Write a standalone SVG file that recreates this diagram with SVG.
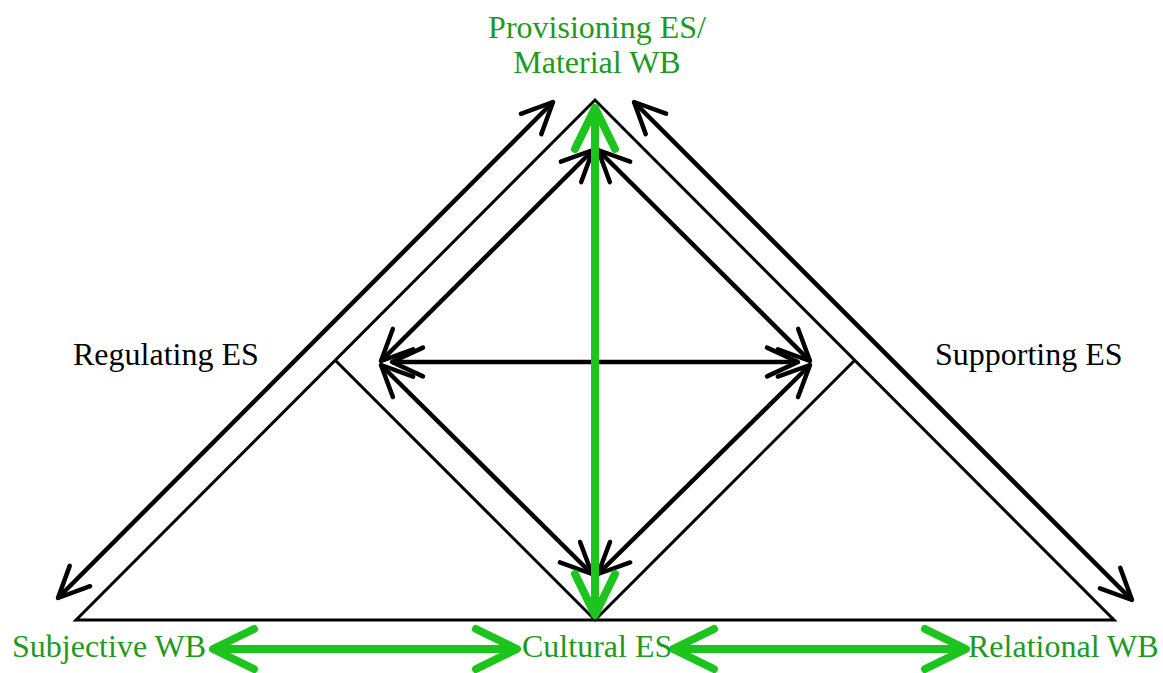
<svg xmlns="http://www.w3.org/2000/svg" width="1163" height="673" viewBox="0 0 1163 673">
  <style>
    .frame { fill: none; stroke: #000; stroke-width: 3; stroke-linejoin: miter; }
    .blk { fill: none; stroke: #000; stroke-width: 4.5; stroke-linecap: butt; }
    .grn { fill: none; stroke: #1ec41e; stroke-width: 8; stroke-linecap: butt; }
    .g { fill: #1e9a1e; }
    .k { fill: #000; }
  </style>
  <defs>
    <marker id="ah" markerUnits="userSpaceOnUse" markerWidth="80" markerHeight="80" viewBox="-40 -40 80 80" refX="0" refY="0" orient="auto-start-reverse" overflow="visible">
      <path d="M -31,-14.4 L 0,0 L -31,14.4" fill="none" stroke="#000" stroke-width="4.5" stroke-linecap="round" stroke-linejoin="round"/>
    </marker>
    <marker id="ahg" markerUnits="userSpaceOnUse" markerWidth="100" markerHeight="100" viewBox="-50 -50 100 100" refX="0" refY="0" orient="auto-start-reverse" overflow="visible">
      <path d="M -41,-20 L 0,0 L -41,20" fill="none" stroke="#1ec41e" stroke-width="8" stroke-linecap="round" stroke-linejoin="round"/>
    </marker>
  </defs>
  <rect width="1163" height="673" fill="#fff"/>

  <g id="frame">
    <polygon class="frame" points="76,620 595,100 1114,620"/>
    <polyline class="frame" points="335,360 595,620 855,360"/>
  </g>

  <g id="connectors">
    <line class="blk" x1="58" y1="598" x2="553" y2="102" marker-start="url(#ah)" marker-end="url(#ah)"/>
    <line class="blk" x1="634" y1="102" x2="1132" y2="600" marker-start="url(#ah)" marker-end="url(#ah)"/>
    <line class="blk" x1="593" y1="150" x2="381" y2="361" marker-start="url(#ah)" marker-end="url(#ah)"/>
    <line class="blk" x1="598" y1="150" x2="810" y2="361" marker-start="url(#ah)" marker-end="url(#ah)"/>
    <line class="blk" x1="381" y1="365" x2="592" y2="574" marker-start="url(#ah)" marker-end="url(#ah)"/>
    <line class="blk" x1="810" y1="365" x2="598" y2="574" marker-start="url(#ah)" marker-end="url(#ah)"/>
    <line class="blk" x1="392" y1="362" x2="798" y2="362" marker-start="url(#ah)" marker-end="url(#ah)"/>
    <line class="grn" x1="595" y1="108" x2="595" y2="615" marker-start="url(#ahg)" marker-end="url(#ahg)"/>
    <line class="grn" x1="213" y1="649" x2="517" y2="649" marker-start="url(#ahg)" marker-end="url(#ahg)"/>
    <line class="grn" x1="673" y1="649" x2="966" y2="649" marker-start="url(#ahg)" marker-end="url(#ahg)"/>
  </g>

  <g font-family="'Liberation Serif', 'DejaVu Serif', serif" font-size="32">
    <g id="provisioning">
      <text class="g" x="597" y="38" text-anchor="middle">Provisioning ES/</text>
      <text class="g" x="597" y="73" text-anchor="middle">Material WB</text>
    </g>
    <g id="regulating">
      <text class="k" x="73" y="365">Regulating ES</text>
    </g>
    <g id="supporting">
      <text class="k" x="935" y="365">Supporting ES</text>
    </g>
    <g id="subjective">
      <text class="g" x="12" y="657">Subjective WB</text>
    </g>
    <g id="cultural">
      <text class="g" x="522" y="657">Cultural ES</text>
    </g>
    <g id="relational">
      <text class="g" x="968" y="657">Relational WB</text>
    </g>
  </g>
</svg>
